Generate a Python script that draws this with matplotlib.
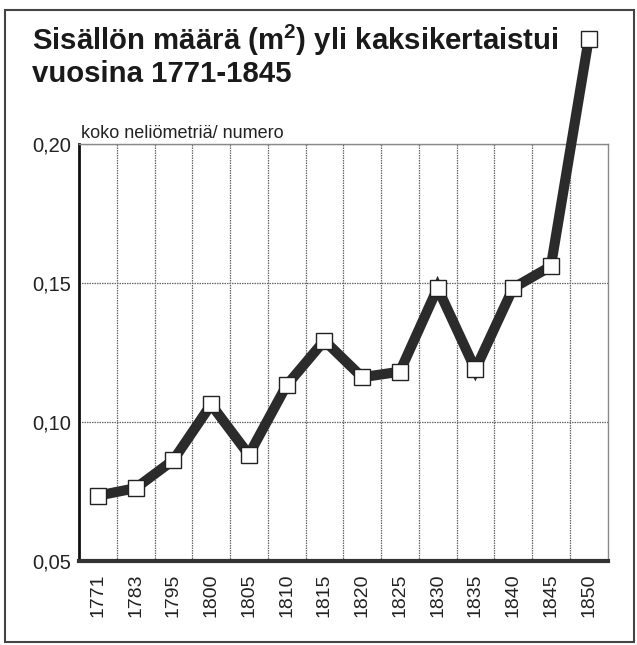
import matplotlib
matplotlib.use("Agg")
import matplotlib.pyplot as plt
from matplotlib.patches import Rectangle
from matplotlib.ticker import FixedLocator

plt.rcParams['font.family'] = ['Liberation Sans', 'DejaVu Sans']
plt.rcParams['mathtext.fontset'] = 'custom'
plt.rcParams['mathtext.rm'] = 'Liberation Sans'
plt.rcParams['mathtext.bf'] = 'Liberation Sans:bold'

years = ['1771', '1783', '1795', '1800', '1805', '1810', '1815', '1820',
         '1825', '1830', '1835', '1840', '1845', '1850']
values = [0.0735, 0.0762, 0.0863, 0.1063, 0.0882, 0.1132, 0.1293, 0.1161,
          0.1181, 0.1482, 0.1189, 0.1482, 0.156, 0.2376]
y_ticks = [0.05, 0.10, 0.15, 0.20]
y_tick_labels = ['0,05', '0,10', '0,15', '0,20']
title_line1 = r'Sisällön määrä (m$^{\mathbf{2}}$) yli kaksikertaistui'
title_line2 = 'vuosina 1771-1845'
axis_note = 'koko neliömetriä/ numero'

W, H = 637, 645
fig = plt.figure(figsize=(W / 100, H / 100), dpi=100)
fig.patch.set_facecolor('white')

left, right, top, bottom = 79, 607.5, 144, 561
ax = fig.add_axes([left / W, 1 - bottom / H, (right - left) / W, (bottom - top) / H])

x = list(range(len(years)))
ax.set_xlim(-0.5, len(years) - 0.5)
ax.set_ylim(0.05, 0.20)

ax.set_xticks(x)
ax.set_xticklabels(years, rotation=90, fontsize=14, color='#222')
ax.xaxis.set_minor_locator(FixedLocator([i + 0.5 for i in range(len(years) - 1)]))
ax.set_yticks(y_ticks)
ax.set_yticklabels(y_tick_labels, fontsize=14.5, color='#222')
ax.tick_params(axis='both', which='both', length=0)
ax.tick_params(axis='y', pad=6)
ax.tick_params(axis='x', pad=9)

ax.grid(True, axis='x', which='minor', color='#666', linestyle=(0, (1.2, 0.8)), linewidth=0.9)
ax.grid(True, axis='y', which='major', color='#666', linestyle=(0, (1.2, 0.8)), linewidth=0.9)
ax.grid(False, axis='x', which='major')
ax.set_axisbelow(True)

for s in ['top', 'right']:
    ax.spines[s].set_color('#888')
    ax.spines[s].set_linewidth(1.0)
ax.spines['left'].set_color('#111')
ax.spines['left'].set_linewidth(2.0)
ax.spines['bottom'].set_color('#333')
ax.spines['bottom'].set_linewidth(3.0)

ax.plot(x, values, color='#2b2b2b', linewidth=7.3, solid_joinstyle='miter',
        clip_on=False, zorder=3)
ax.plot(x, values, linestyle='none', marker='s', markersize=12,
        markerfacecolor='white', markeredgecolor='#222', markeredgewidth=1.0,
        clip_on=False, zorder=4)

fig.text(32 / W, 1 - 50 / H, title_line1, fontsize=21.2, fontweight='bold',
         color='#1a1a1a', va='baseline', ha='left')
fig.text(32 / W, 1 - 82 / H, title_line2, fontsize=21.2, fontweight='bold',
         color='#1a1a1a', va='baseline', ha='left')
fig.text(81 / W, 1 - 138 / H, axis_note, fontsize=13, color='#222',
         va='baseline', ha='left')

fig.patches.append(Rectangle((4.5 / W, 1 - 642 / H), (634 - 4.5) / W, (642 - 9.5) / H,
                             transform=fig.transFigure, fill=False,
                             edgecolor='#444', linewidth=1.5))

fig.savefig('out.png', dpi=100)
